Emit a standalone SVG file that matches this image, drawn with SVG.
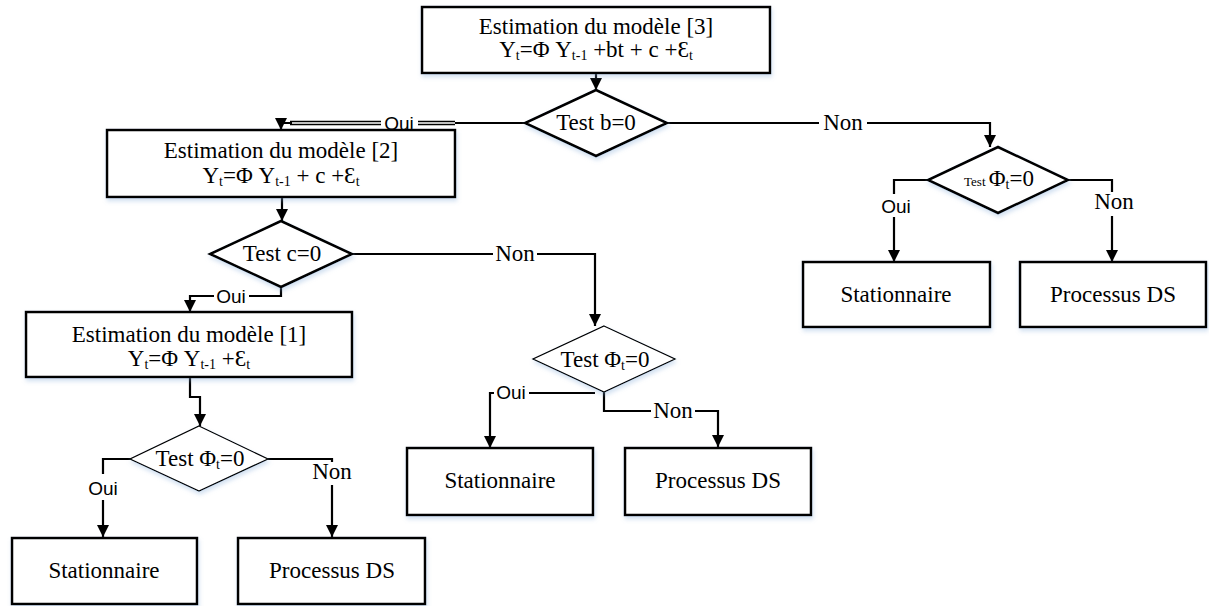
<svg xmlns="http://www.w3.org/2000/svg" width="1209" height="606" viewBox="0 0 1209 606">
  <style>
    .box { fill: #ffffff; stroke: #000; stroke-width: 2.5; filter: url(#shadow); }
    .dia { fill: #ffffff; stroke: #000; stroke-width: 2.5; filter: url(#shadow); }
    .dia-thin { fill: #ffffff; stroke: #000; stroke-width: 1.3; filter: url(#shadow); }
    .t { font-family: "Liberation Serif", "Times New Roman", serif; font-size: 23px; fill: #000; text-anchor: middle; }
    .sub { font-size: 14px; }
    .small { font-size: 13px; }
    .lbl-sans { font-family: "Liberation Sans", Arial, sans-serif; font-size: 19px; fill: #000; text-anchor: middle; }
    .wire { fill: none; stroke: #000; stroke-width: 2.2; }
    .arrow { fill: none; stroke: #000; stroke-width: 2.2; marker-end: url(#head); }
    .thin { fill: none; stroke: #000; stroke-width: 1.3; }
  </style>
  <defs>
    <marker id="head" markerUnits="userSpaceOnUse" markerWidth="14" markerHeight="14" refX="12" refY="6" orient="auto">
      <path d="M0,0 L12,6 L0,12 z" fill="#000"/>
    </marker>
    <filter id="shadow" x="-10%" y="-10%" width="120%" height="130%">
      <feDropShadow dx="1" dy="3" stdDeviation="2" flood-color="#7fa7d6" flood-opacity="0.35"/>
    </filter>
  </defs>

  <!-- connectors -->
  <g id="connectors">
    <!-- model 3 -> test b -->
    <path class="arrow" d="M596,73 V90"/>
    <!-- test b: Oui -> model 2 -->
    <path class="wire" d="M525,123 H455"/>
    <path class="thin" d="M455,121.5 H418 M455,124.5 H418"/>
    <path class="thin" d="M381,121.5 H290 M381,124.5 H290"/>
    <path class="arrow" d="M292,123 H281 V130"/>
    <!-- test b: Non -> right test -->
    <path class="wire" d="M667,123 H819"/>
    <path class="arrow" d="M867,123 H990 V147"/>
    <!-- right test branches -->
    <path class="wire" d="M928,180 H894 V194"/>
    <path class="arrow" d="M894,217 V262"/>
    <path class="wire" d="M1068,180 H1112 V192"/>
    <path class="arrow" d="M1112,216 V262"/>
    <!-- model 2 -> test c -->
    <path class="arrow" d="M282,197 V221"/>
    <!-- test c: Non -> middle test -->
    <path class="wire" d="M352,254 H493"/>
    <path class="arrow" d="M537,254 H595 V326"/>
    <!-- middle test branches -->
    <path class="wire" d="M595,393 H529"/>
    <path class="arrow" d="M494,393 H490 V448"/>
    <path class="wire" d="M604,392 V411 H651"/>
    <path class="arrow" d="M695,411 H718 V447"/>
    <!-- test c: Oui -> model 1 -->
    <path class="wire" d="M281,287 V296 H249"/>
    <path class="arrow" d="M214,296 H190 V312"/>
    <!-- model 1 -> lower test -->
    <path class="arrow" d="M190,377 V397 H200 V426"/>
    <!-- lower test branches -->
    <path class="wire" d="M130,459 H103 V474"/>
    <path class="arrow" d="M103,500 V537"/>
    <path class="wire" d="M268,459 H332 V462"/>
    <path class="arrow" d="M332,485 V537"/>

    <!-- branch labels -->
    <text class="lbl-sans" x="399" y="130">Oui</text>
    <text class="t" x="843" y="130">Non</text>
    <text class="lbl-sans" x="896" y="213">Oui</text>
    <text class="t" x="1114" y="209">Non</text>
    <text class="t" x="515" y="261">Non</text>
    <text class="lbl-sans" x="511" y="399">Oui</text>
    <text class="t" x="673" y="418">Non</text>
    <text class="lbl-sans" x="231" y="303">Oui</text>
    <text class="lbl-sans" x="103" y="495">Oui</text>
    <text class="t" x="332" y="479">Non</text>
  </g>

  <g id="model3">
    <rect class="box" x="422" y="7" width="348" height="66"/>
    <text class="t" x="596" y="34">Estimation du modèle [3]</text>
    <text class="t" x="596" y="57">Y<tspan class="sub" dy="3">t</tspan><tspan dy="-3">=Φ Y</tspan><tspan class="sub" dy="3">t-1</tspan><tspan dy="-3"> +bt + c +Ɛ</tspan><tspan class="sub" dy="3">t</tspan></text>
  </g>

  <g id="test-b">
    <polygon class="dia" points="596,90 667,123 596,156 525,123"/>
    <text class="t" x="596" y="130">Test b=0</text>
  </g>

  <g id="model2">
    <rect class="box" x="107" y="130" width="348" height="67"/>
    <text class="t" x="281" y="158">Estimation du modèle [2]</text>
    <text class="t" x="281" y="183">Y<tspan class="sub" dy="3">t</tspan><tspan dy="-3">=Φ Y</tspan><tspan class="sub" dy="3">t-1</tspan><tspan dy="-3"> + c +Ɛ</tspan><tspan class="sub" dy="3">t</tspan></text>
  </g>

  <g id="test-phi-right">
    <polygon class="dia" points="998,147 1068,180 998,213 928,180"/>
    <text class="t" x="999" y="186"><tspan class="small">Test </tspan>Φ<tspan class="sub" dy="3">t</tspan><tspan dy="-3">=0</tspan></text>
  </g>

  <g id="stationnaire-right">
    <rect class="box" x="803" y="262" width="187" height="65"/>
    <text class="t" x="896" y="302">Stationnaire</text>
  </g>

  <g id="processus-right">
    <rect class="box" x="1020" y="262" width="186" height="65"/>
    <text class="t" x="1113" y="302">Processus DS</text>
  </g>

  <g id="test-c">
    <polygon class="dia" points="281,221 352,254 281,287 210,254"/>
    <text class="t" x="282" y="261">Test c=0</text>
  </g>

  <g id="test-phi-middle">
    <polygon class="dia-thin" points="604,326 675,359 604,392 533,359"/>
    <text class="t" x="605" y="367">Test Φ<tspan class="sub" dy="3">t</tspan><tspan dy="-3">=0</tspan></text>
  </g>

  <g id="stationnaire-middle">
    <rect class="box" x="407" y="448" width="186" height="67"/>
    <text class="t" x="500" y="488">Stationnaire</text>
  </g>

  <g id="processus-middle">
    <rect class="box" x="625" y="448" width="186" height="67"/>
    <text class="t" x="718" y="488">Processus DS</text>
  </g>

  <g id="model1">
    <rect class="box" x="26" y="312" width="326" height="65"/>
    <text class="t" x="189" y="342">Estimation du modèle [1]</text>
    <text class="t" x="189" y="366">Y<tspan class="sub" dy="3">t</tspan><tspan dy="-3">=Φ Y</tspan><tspan class="sub" dy="3">t-1</tspan><tspan dy="-3"> +Ɛ</tspan><tspan class="sub" dy="3">t</tspan></text>
  </g>

  <g id="test-phi-left">
    <polygon class="dia-thin" points="199,426 268,459 199,491 130,459"/>
    <text class="t" x="200" y="466">Test Φ<tspan class="sub" dy="3">t</tspan><tspan dy="-3">=0</tspan></text>
  </g>

  <g id="stationnaire-left">
    <rect class="box" x="12" y="538" width="185" height="66"/>
    <text class="t" x="104" y="578">Stationnaire</text>
  </g>

  <g id="processus-left">
    <rect class="box" x="238" y="538" width="187" height="66"/>
    <text class="t" x="332" y="578">Processus DS</text>
  </g>
</svg>
